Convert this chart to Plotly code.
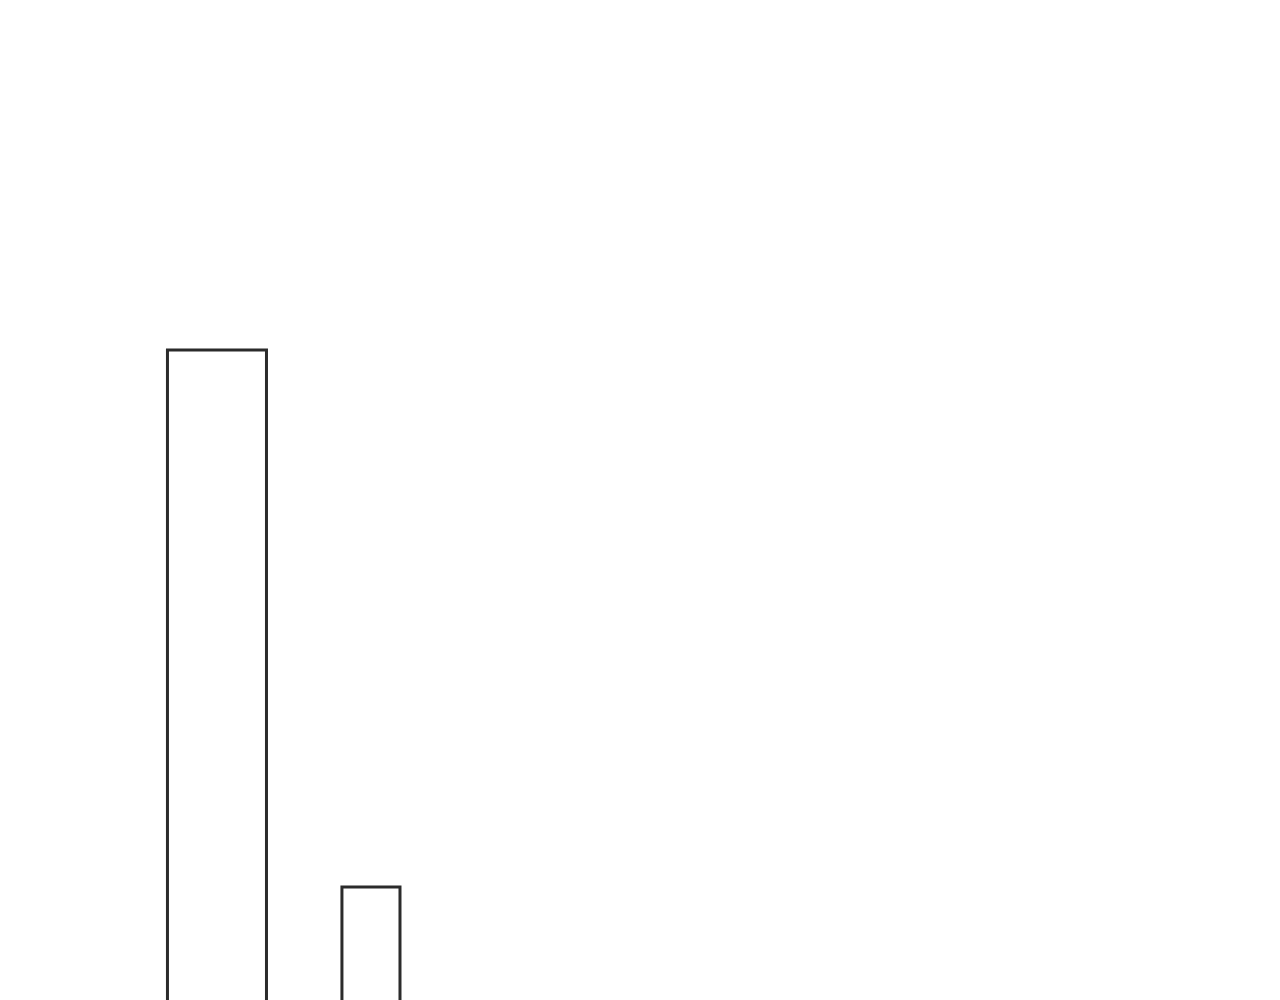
import plotly.graph_objects as go

# Two outlined bars, bottoms run off the page
categories = ["A", "B"]
values = [67.8, 14.1]

fig = go.Figure()

fig.add_trace(go.Bar(
    x=categories,
    y=values,
    width=[0.643, 0.377],
    marker=dict(color="rgba(0,0,0,0)", line=dict(color="#2b2b2b", width=3)),
    showlegend=False,
    hoverinfo="skip",
))

# Page body adds an 8px offset, ranges are set to allow for it
fig.update_layout(
    width=1280,
    height=1000,
    margin=dict(l=0, r=0, t=0, b=0),
    paper_bgcolor="#ffffff",
    plot_bgcolor="#ffffff",
    xaxis=dict(visible=False, type="category", range=[-1.357, 6.955]),
    yaxis=dict(visible=False, range=[2, 102]),
)

fig.write_html("out.html")
